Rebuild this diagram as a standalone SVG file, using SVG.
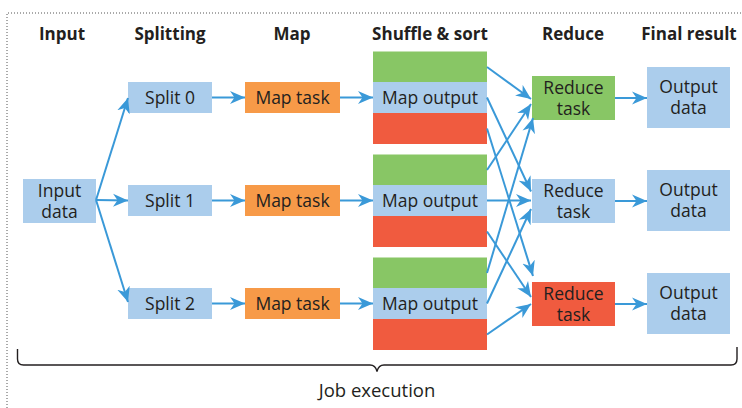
<svg xmlns="http://www.w3.org/2000/svg" width="742" height="408" viewBox="0 0 742 408">
  <style>
    .hdr { font-family: "Open Sans", "Liberation Sans", sans-serif; font-weight: 700; font-size: 17px; fill: #231f20; text-anchor: middle; }
    .lbl { font-family: "Open Sans", "Liberation Sans", sans-serif; font-size: 17.5px; fill: #231f20; text-anchor: middle; }
    .cap { font-family: "Open Sans", "Liberation Sans", sans-serif; font-size: 18.5px; fill: #231f20; text-anchor: middle; }
    .blue { fill: #abcdec; }
    .orange { fill: #f79a48; }
    .green { fill: #88c665; }
    .red { fill: #f05b3f; }
    .conn line { stroke: #3a99d8; stroke-width: 2; fill: none; marker-end: url(#arrow); }
    .frame { stroke: #555; stroke-width: 1; stroke-dasharray: 1 2; fill: none; }
    .brace { stroke: #231f20; stroke-width: 1.4; fill: none; }
  </style>
  <defs>
    <marker id="arrow" markerUnits="userSpaceOnUse" viewBox="0 0 16 14" markerWidth="16" markerHeight="14" refX="15" refY="7" orient="auto">
      <path d="M0,0.5 L15,7 L0,13.5 L4.5,7 Z" fill="#3a99d8"/>
    </marker>
  </defs>

  <rect width="742" height="408" fill="#ffffff"/>

  <!-- dotted frame (top and left edges) -->
  <path class="frame" d="M7,408 L7,13 L742,13"/>

  <!-- column headers -->
  <g id="headers">
    <text class="hdr" x="62" y="40">Input</text>
    <text class="hdr" x="170" y="40">Splitting</text>
    <text class="hdr" x="292" y="40">Map</text>
    <text class="hdr" x="430" y="40">Shuffle &amp; sort</text>
    <text class="hdr" x="573" y="40">Reduce</text>
    <text class="hdr" x="689" y="40">Final result</text>
  </g>

  <!-- input -->
  <g id="input-data">
    <rect class="blue" x="23" y="179" width="73" height="44"/>
    <text class="lbl" x="59.5" y="196.5">Input</text>
    <text class="lbl" x="59.5" y="217.5">data</text>
  </g>

  <!-- splits -->
  <g id="split-0">
    <rect class="blue" x="128" y="82" width="84" height="31"/>
    <text class="lbl" x="170" y="103.5">Split 0</text>
  </g>
  <g id="split-1">
    <rect class="blue" x="128" y="185" width="84" height="31"/>
    <text class="lbl" x="170" y="206.5">Split 1</text>
  </g>
  <g id="split-2">
    <rect class="blue" x="128" y="288" width="84" height="31"/>
    <text class="lbl" x="170" y="309.5">Split 2</text>
  </g>

  <!-- map tasks -->
  <g id="map-0">
    <rect class="orange" x="245" y="82" width="95" height="31"/>
    <text class="lbl" x="292.5" y="103.5">Map task</text>
  </g>
  <g id="map-1">
    <rect class="orange" x="245" y="185" width="95" height="31"/>
    <text class="lbl" x="292.5" y="206.5">Map task</text>
  </g>
  <g id="map-2">
    <rect class="orange" x="245" y="288" width="95" height="31"/>
    <text class="lbl" x="292.5" y="309.5">Map task</text>
  </g>

  <!-- map outputs, partitioned per reducer -->
  <g id="map-output-0">
    <rect class="green" x="373" y="51.5" width="114" height="31"/>
    <rect class="blue" x="373" y="82" width="114" height="31"/>
    <rect class="red" x="373" y="113" width="114" height="31"/>
    <text class="lbl" x="430" y="103.5">Map output</text>
  </g>
  <g id="map-output-1">
    <rect class="green" x="373" y="154.5" width="114" height="31"/>
    <rect class="blue" x="373" y="185" width="114" height="31"/>
    <rect class="red" x="373" y="216" width="114" height="31"/>
    <text class="lbl" x="430" y="206.5">Map output</text>
  </g>
  <g id="map-output-2">
    <rect class="green" x="373" y="257.5" width="114" height="31"/>
    <rect class="blue" x="373" y="288" width="114" height="31"/>
    <rect class="red" x="373" y="319" width="114" height="31"/>
    <text class="lbl" x="430" y="309.5">Map output</text>
  </g>

  <!-- reduce tasks -->
  <g id="reduce-0">
    <rect class="green" x="532" y="76" width="83" height="44"/>
    <text class="lbl" x="573.5" y="93.5">Reduce</text>
    <text class="lbl" x="573.5" y="114.5">task</text>
  </g>
  <g id="reduce-1">
    <rect class="blue" x="532" y="179" width="83" height="44"/>
    <text class="lbl" x="573.5" y="196.5">Reduce</text>
    <text class="lbl" x="573.5" y="217.5">task</text>
  </g>
  <g id="reduce-2">
    <rect class="red" x="532" y="282" width="83" height="44"/>
    <text class="lbl" x="573.5" y="299.5">Reduce</text>
    <text class="lbl" x="573.5" y="320.5">task</text>
  </g>

  <!-- final outputs -->
  <g id="output-0">
    <rect class="blue" x="647" y="67" width="83" height="61"/>
    <text class="lbl" x="688.5" y="92.5">Output</text>
    <text class="lbl" x="688.5" y="113.5">data</text>
  </g>
  <g id="output-1">
    <rect class="blue" x="647" y="170" width="83" height="61"/>
    <text class="lbl" x="688.5" y="195.5">Output</text>
    <text class="lbl" x="688.5" y="216.5">data</text>
  </g>
  <g id="output-2">
    <rect class="blue" x="647" y="273" width="83" height="61"/>
    <text class="lbl" x="688.5" y="298.5">Output</text>
    <text class="lbl" x="688.5" y="319.5">data</text>
  </g>

  <!-- connectors -->
  <g id="connectors" class="conn">
    <line x1="96" y1="200" x2="128" y2="98"/>
    <line x1="96" y1="200" x2="128" y2="200.5"/>
    <line x1="96" y1="200" x2="128" y2="302"/>

    <line x1="212" y1="97.5" x2="245" y2="97.5"/>
    <line x1="212" y1="200.5" x2="245" y2="200.5"/>
    <line x1="212" y1="303.5" x2="245" y2="303.5"/>

    <line x1="340" y1="97.5" x2="373" y2="97.5"/>
    <line x1="340" y1="200.5" x2="373" y2="200.5"/>
    <line x1="340" y1="303.5" x2="373" y2="303.5"/>

    <line x1="487" y1="67" x2="531" y2="99"/>
    <line x1="487" y1="170" x2="531" y2="104"/>
    <line x1="487" y1="273" x2="533" y2="118"/>
    <line x1="487" y1="97.5" x2="531" y2="191.5"/>
    <line x1="487" y1="200.5" x2="531" y2="200.5"/>
    <line x1="487" y1="303.5" x2="531" y2="209"/>
    <line x1="487" y1="128.5" x2="533" y2="276"/>
    <line x1="487" y1="231.5" x2="531" y2="297"/>
    <line x1="487" y1="334.5" x2="531" y2="304"/>

    <line x1="615" y1="98" x2="647" y2="98"/>
    <line x1="615" y1="201" x2="647" y2="201"/>
    <line x1="615" y1="304" x2="647" y2="304"/>
  </g>

  <!-- brace under the whole job -->
  <path class="brace" d="M17.5,349 L17.5,359 Q17.5,365 23.5,365 L370,365 Q375.5,365 377,371.5 Q378.5,365 384,365 L731,365 Q737,365 737,359 L737,347"/>
  <text class="cap" x="377" y="397">Job execution</text>
</svg>
